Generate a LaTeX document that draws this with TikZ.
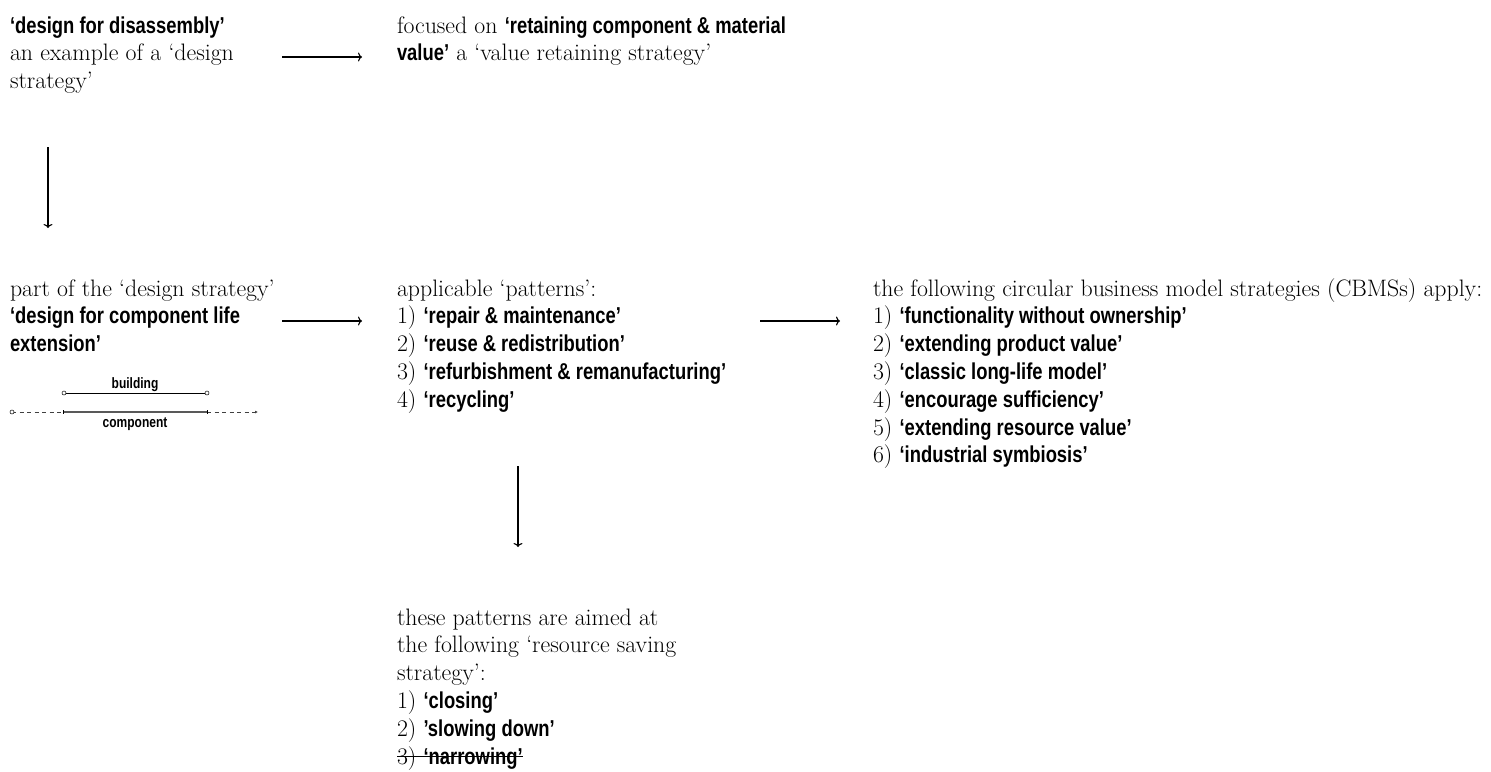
\documentclass[tikz,border=0pt]{standalone}
\usepackage{fontspec}
\usetikzlibrary{arrows.meta}
\newfontfamily\bsans[FakeStretch=0.80]{Liberation Sans}
% body text and highlighted terms
\newcommand{\bodyfont}{\fontsize{23.8}{27.8}\selectfont}
\newcommand{\hl}[1]{{\bsans\bfseries\fontsize{23}{27.8}\selectfont #1}}
\newcommand{\row}[1]{\hbox{#1}}
\newcommand{\block}[1]{\vtop{\bodyfont\baselineskip=27.8pt\lineskiplimit=-20pt #1}}
% struck-out line
\newsavebox{\strikebox}
\newcommand{\struck}[1]{\sbox{\strikebox}{#1}%
  \rlap{\rule[7pt]{\wd\strikebox}{1pt}}\usebox{\strikebox}}
\tikzset{
  blk/.style={anchor=base west, inner sep=0pt, outer sep=0pt},
  lbl/.style={anchor=base, inner sep=0pt, font=\bsans\bfseries\fontsize{15}{18}\selectfont},
  arr/.style={line width=1.1pt, -{To[length=4pt,width=9pt]}},
}
\begin{document}
\begin{tikzpicture}[x=1pt,y=-1pt]
\useasboundingbox (0,0) rectangle (1491,771);

% text blocks
\node[blk] (dfd) at (10,33) {\block{%
  \row{\hl{‘design for disassembly’}}
  \row{an example of a ‘design}
  \row{strategy’}}};
\node[blk] (retain) at (397,33) {\block{%
  \row{focused on \hl{‘retaining component \& material}}
  \row{\hl{value’} a ‘value retaining strategy’}}};
\node[blk] (dcle) at (10,296) {\block{%
  \row{part of the ‘design strategy’}
  \row{\hl{‘design for component life}}
  \row{\hl{extension’}}}};
\node[blk] (patterns) at (397,296) {\block{%
  \row{applicable ‘patterns’:}
  \row{1) \hl{‘repair \& maintenance’}}
  \row{2) \hl{‘reuse \& redistribution’}}
  \row{3) \hl{‘refurbishment \& remanufacturing’}}
  \row{4) \hl{‘recycling’}}}};
\node[blk] (cbms) at (873,296) {\block{%
  \row{the following circular business model strategies (CBMSs) apply:}
  \row{1) \hl{‘functionality without ownership’}}
  \row{2) \hl{‘extending product value’}}
  \row{3) \hl{‘classic long-life model’}}
  \row{4) \hl{‘encourage sufficiency’}}
  \row{5) \hl{‘extending resource value’}}
  \row{6) \hl{‘industrial symbiosis’}}}};
\node[blk] (saving) at (397,625) {\block{%
  \row{these patterns are aimed at}
  \row{the following ‘resource saving}
  \row{strategy’:}
  \row{1) \hl{‘closing’}}
  \row{2) \hl{’slowing down’}}
  \row{\struck{3) \hl{‘narrowing’}}}}};

% connectors
\coordinate (a1s) at (282,57);  \coordinate (a1e) at (362,57);
\coordinate (a2s) at (48,147);  \coordinate (a2e) at (48,228);
\coordinate (a3s) at (282,321); \coordinate (a3e) at (362,321);
\coordinate (a4s) at (760,321); \coordinate (a4e) at (840,321);
\coordinate (a5s) at (518,466); \coordinate (a5e) at (518,547);
\draw[arr] (a1s) -- (a1e);
\draw[arr] (a2s) -- (a2e);
\draw[arr] (a3s) -- (a3e);
\draw[arr] (a4s) -- (a4e);
\draw[arr] (a5s) -- (a5e);

% building / component life span sketch
\node[lbl] (bldg) at (135,388) {building};
\node[lbl] (comp) at (135,427) {component};
\coordinate (bL) at (64,393);  \coordinate (bR) at (207,393);
\coordinate (c0) at (12,412);  \coordinate (c1) at (63,412);
\coordinate (c2) at (207,412); \coordinate (c3) at (258,412);
\draw[line width=0.8pt] (bL) -- (bR);
\draw[line width=0.5pt, fill=white] (bL) circle (2pt) (bR) circle (2pt);
\draw[line width=0.7pt, dash pattern=on 4pt off 3.5pt, black!75] (c0) -- (c1);
\draw[line width=0.7pt, dash pattern=on 4pt off 3.5pt, black!75,
      -{Latex[length=3pt,width=3pt]}] (c2) -- (c3);
\draw[line width=1.4pt, black!65] (c1) -- (c2);
\draw[line width=0.6pt] (c1) ++(0,-2) -- ++(0,4) (c2) ++(0,-2) -- ++(0,4);
\draw[line width=0.5pt, fill=white] (c0) circle (2pt);
\end{tikzpicture}
\end{document}
